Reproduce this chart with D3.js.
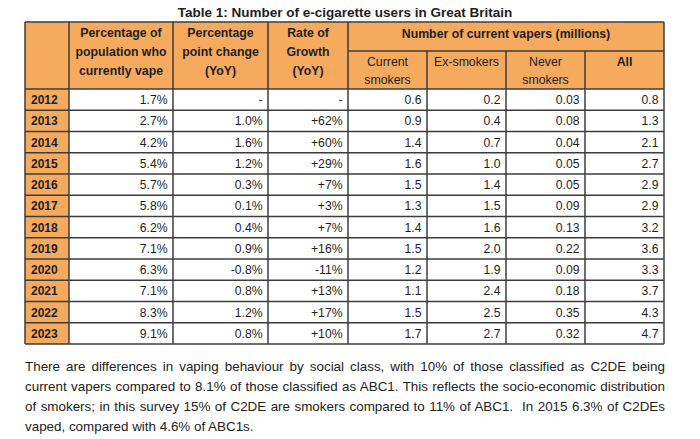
<!DOCTYPE html>
<html><head><meta charset="utf-8">
<script src="https://cdn.jsdelivr.net/npm/d3@7"></script>
<style>
body{margin:0;background:#fff;font-family:"Liberation Sans",Arial,sans-serif;}
#para{position:absolute;left:25px;top:357px;width:640px;font-size:13.4px;line-height:20px;color:#222;text-align:justify;white-space:pre-wrap;}
</style></head><body>
<svg id="chart" width="700" height="439" style="position:absolute;left:0;top:0"></svg>
<div id="para"></div>
<script>
const title = "Table 1: Number of e-cigarette users in Great Britain";
const years = ["2012","2013","2014","2015","2016","2017","2018","2019","2020","2021","2022","2023"];
const pctVape = ["1.7%","2.7%","4.2%","5.4%","5.7%","5.8%","6.2%","7.1%","6.3%","7.1%","8.3%","9.1%"];
const ppChange = ["-","1.0%","1.6%","1.2%","0.3%","0.1%","0.4%","0.9%","-0.8%","0.8%","1.2%","0.8%"];
const growth = ["-","+62%","+60%","+29%","+7%","+3%","+7%","+16%","-11%","+13%","+17%","+10%"];
const currentSmokers = ["0.6","0.9","1.4","1.6","1.5","1.3","1.4","1.5","1.2","1.1","1.5","1.7"];
const exSmokers = ["0.2","0.4","0.7","1.0","1.4","1.5","1.6","2.0","1.9","2.4","2.5","2.7"];
const neverSmokers = ["0.03","0.08","0.04","0.05","0.05","0.09","0.13","0.22","0.09","0.18","0.35","0.32"];
const allVapers = ["0.8","1.3","2.1","2.7","2.9","2.9","3.2","3.6","3.3","3.7","4.3","4.7"];
const headers = [[""],["Percentage of","population who","currently vape"],["Percentage","point change","(YoY)"],["Rate of","Growth","(YoY)"]];
const groupHeader = "Number of current vapers (millions)";
const subHeaders = [["Current","smokers"],["Ex-smokers"],["Never","smokers"],["All"]];
const paragraph = "There are differences in vaping behaviour by social class, with 10% of those classified as C2DE being current vapers compared to 8.1% of those classified as ABC1. This reflects the socio-economic distribution of smokers; in this survey 15% of C2DE are smokers compared to 11% of ABC1.  In 2015 6.3% of C2DEs vaped, compared with 4.6% of ABC1s.";

const svg = d3.select("#chart");
const orange = "#F5AA5E", border = "#3c3c3c", textCol = "#1e1e1e";
const colEdges = [25, 69, 173, 268, 348, 427, 506, 585, 664];
const tTop = 22, tMid = 51, headBottom = 89, tBottom = 344;

const y = d3.scaleBand().domain(years).range([headBottom, tBottom]);
const cols = [pctVape, ppChange, growth, currentSmokers, exSmokers, neverSmokers, allVapers];

svg.append("text").attr("x", 345).attr("y", 17).attr("text-anchor","middle")
  .attr("font-size", 13.5).attr("font-weight","bold").attr("fill", textCol).text(title);

svg.append("rect").attr("x", colEdges[0]).attr("y", tTop).attr("width", colEdges[8]-colEdges[0]).attr("height", headBottom-tTop).attr("fill", orange);
svg.append("rect").attr("x", colEdges[0]).attr("y", headBottom).attr("width", colEdges[1]-colEdges[0]).attr("height", tBottom-headBottom).attr("fill", orange);

headers.forEach((lines, i) => {
  const cx = (colEdges[i] + colEdges[i+1]) / 2;
  lines.forEach((t, j) => {
    svg.append("text").attr("x", cx).attr("y", 36.5 + j*19.4).attr("text-anchor","middle")
      .attr("font-size", 12.3).attr("font-weight","bold").attr("fill", textCol).text(t);
  });
});
svg.append("text").attr("x", (colEdges[4]+colEdges[8])/2).attr("y", 37.5).attr("text-anchor","middle")
  .attr("font-size", 12.3).attr("font-weight","bold").attr("fill", textCol).text(groupHeader);
subHeaders.forEach((lines, i) => {
  const cx = (colEdges[4+i] + colEdges[5+i]) / 2;
  lines.forEach((t, j) => {
    svg.append("text").attr("x", cx).attr("y", 65.5 + j*18.5).attr("text-anchor","middle")
      .attr("font-size", 12.3).attr("font-weight", t === "All" ? "bold" : "normal").attr("fill", textCol).text(t);
  });
});

years.forEach((yr, r) => {
  const cy = y(yr) + y.bandwidth()/2 + 4.4;
  svg.append("text").attr("x", colEdges[0] + 6).attr("y", cy).attr("font-size", 12)
    .attr("font-weight","bold").attr("fill", textCol).text(yr);
  cols.forEach((arr, c) => {
    svg.append("text").attr("x", colEdges[c+2] - 5.5).attr("y", cy).attr("text-anchor","end")
      .attr("font-size", 12.2).attr("fill", textCol).text(arr[r]);
  });
});

const g = svg.append("g").attr("stroke", border).attr("stroke-width", 1.5);
g.append("line").attr("x1", colEdges[0]).attr("x2", colEdges[8]).attr("y1", tTop).attr("y2", tTop);
g.append("line").attr("x1", colEdges[4]).attr("x2", colEdges[8]).attr("y1", tMid).attr("y2", tMid);
g.append("line").attr("x1", colEdges[0]).attr("x2", colEdges[8]).attr("y1", headBottom).attr("y2", headBottom);
years.forEach(yr => {
  const yy = y(yr) + y.bandwidth();
  g.append("line").attr("x1", colEdges[0]).attr("x2", colEdges[8]).attr("y1", yy).attr("y2", yy);
});
colEdges.forEach((x, i) => {
  const y1 = (i === 5 || i === 6 || i === 7) ? tMid : tTop;
  g.append("line").attr("x1", x).attr("x2", x).attr("y1", y1).attr("y2", tBottom);
});

d3.select("#para").text(paragraph);
</script></body></html>
